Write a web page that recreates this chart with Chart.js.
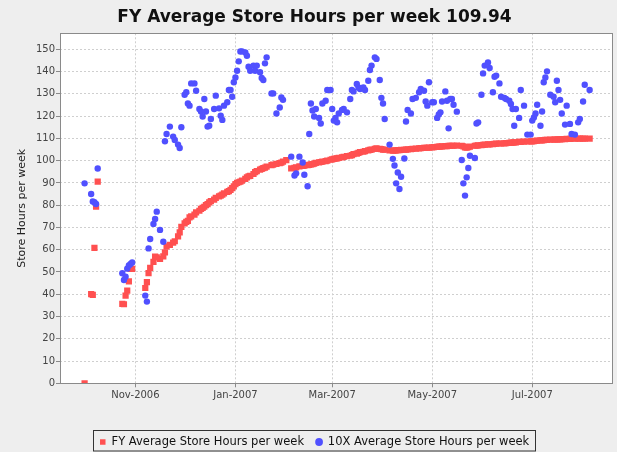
<!DOCTYPE html>
<html>
<head>
<meta charset="utf-8">
<script src="https://cdn.jsdelivr.net/npm/chart.js@4.4.0/dist/chart.umd.min.js"></script>
<style>
  html, body { margin: 0; padding: 0; background: #eeeeee; }
  #wrap { width: 617px; height: 452px; position: relative; }
</style>
</head>
<body>
<div id="wrap"><canvas id="scatterChart"></canvas></div>
<script>
// days counted from 2006-10-01
const days = [
  0, 4, 5, 6, 7, 8,
  23, 24, 25, 26, 27, 28, 29,
  37, 38, 39, 40, 42, 43, 44, 46, 48, 49,
  50, 52, 54, 55, 57, 58, 59, 61, 62, 63,
  64, 65, 67, 68, 70, 71, 72, 73, 74, 75,
  76, 77, 79, 80, 82, 83, 84, 85, 87, 88,
  89, 90, 91, 92, 93, 94, 95, 96, 98, 99,
  100, 101, 103, 104, 105, 107, 108, 109, 110, 111,
  114, 115, 117, 119, 120, 121, 123,
  126, 128, 129, 131, 133, 134, 136, 137, 138, 139,
  140, 141, 143, 144, 145, 147, 148, 150, 151, 152,
  153, 154, 155, 157, 158, 160, 162, 163, 164, 166,
  167, 168, 170, 171, 173, 174, 175, 177, 178, 180,
  181, 182, 183, 186, 188, 189, 190, 191, 192, 193,
  195, 196, 197, 199, 200, 202, 204, 205, 207, 208,
  209, 210, 212, 213, 215, 216, 217, 218, 220, 221,
  222, 223, 224, 225, 227, 230, 231, 232, 233, 234,
  235, 238, 239, 240, 242, 243, 244, 246, 247, 249,
  250, 251, 253, 254, 256, 257, 259, 260, 261, 262,
  263, 265, 266, 268, 270, 272, 273, 274, 275, 276,
  278, 279, 280, 281, 282, 284, 286, 287, 288, 289,
  290, 291, 293, 294, 296, 297, 299, 301, 302, 304,
  305, 308
];

const fyHours = [
  0, 40.1, 39.7, 60.8, 79.3, 90.6,
  35.7, 35.5, 39.4, 41.6, 45.8, 51.4, 51.4,
  42.8, 45.4, 49.5, 51.8, 54.5, 56.9, 56.6, 55.9, 57.0, 58.8,
  61.5, 62.2, 63.2, 63.8, 66.0, 67.8, 70.3, 71.8, 72.5, 73.0,
  74.5, 75.0, 75.8, 76.8, 77.5, 78.3, 78.8, 79.3, 80.0, 80.5,
  81.3, 81.8, 82.5, 83.3, 84.0, 84.3, 84.7, 85.3, 86.0, 86.3,
  86.9, 87.7, 88.4, 89.5, 90.0, 90.3, 90.6, 91.0, 91.8, 92.5,
  93.0, 93.2, 94.0, 94.8, 95.3, 96.0, 96.3, 96.6, 96.9, 97.3,
  98.0, 98.2, 98.6, 98.9, 99.1, 99.6, 100.2,
  96.5, 96.8, 97.0, 97.4, 97.6, 97.8, 98.0, 98.1, 98.3, 98.4,
  98.7, 99.0, 99.2, 99.4, 99.6, 99.8, 100.0, 100.4, 100.6, 100.8,
  100.9, 101.0, 101.2, 101.5, 101.7, 102.0, 102.2, 102.5, 102.9, 103.2,
  103.5, 103.8, 104.0, 104.3, 104.6, 104.8, 105.0, 105.3, 105.5, 105.3,
  105.2, 105.0, 104.9, 104.6, 104.5, 104.5, 104.6, 104.7, 104.7, 104.8,
  104.9, 105.0, 105.1, 105.2, 105.3, 105.4, 105.5, 105.6, 105.7, 105.8,
  105.8, 105.9, 106.0, 106.1, 106.2, 106.3, 106.3, 106.4, 106.5, 106.5,
  106.6, 106.6, 106.7, 106.7, 106.8, 106.7, 106.4, 106.0, 105.9, 106.1,
  106.3, 106.7, 106.8, 106.9, 107.0, 107.1, 107.2, 107.3, 107.3, 107.4,
  107.5, 107.6, 107.7, 107.7, 107.8, 107.9, 108.0, 108.1, 108.1, 108.2,
  108.2, 108.4, 108.4, 108.5, 108.6, 108.7, 108.7, 108.8, 108.9, 109.0,
  109.1, 109.1, 109.2, 109.3, 109.3, 109.4, 109.4, 109.5, 109.5, 109.6,
  109.6, 109.7, 109.7, 109.8, 109.8, 109.85, 109.87, 109.9, 109.9, 109.92,
  109.93, 109.94
];

const tenXHours = [
  89.8, 85.0, 81.7, 81.3, 80.5, 96.5,
  49.4, 46.4, 47.9, 51.5, 52.9, 53.6, 54.3,
  39.4, 36.7, 60.6, 64.8, 71.6, 73.8, 77.1, 68.9, 63.6, 108.7,
  112.0, 115.3, 110.8, 109.3, 107.2, 105.7, 115.0, 129.6, 130.7, 125.7,
  124.7, 134.7, 134.7, 131.4, 123.2, 122.1, 119.8, 127.7, 122.1, 115.3,
  115.7, 118.7, 123.2, 129.2, 123.5, 120.2, 118.3, 124.7, 126.2, 131.7,
  131.7, 128.7, 135.2, 137.4, 140.4, 144.6, 149.0, 149.1, 148.6, 147.1,
  142.2, 140.4, 142.7, 140.4, 142.7, 139.7, 137.1, 136.2, 143.7, 146.4,
  130.2, 130.2, 121.2, 123.9, 128.4, 127.3, null,
  101.8, 93.3, 94.3, 101.8, 99.2, 93.7, 88.5, 112.0, 125.7, 122.5,
  119.8, 123.2, 119.2, 116.7, 125.7, 126.9, 131.7, 131.7, 123.2, 118.0,
  119.2, 117.2, 121.2, 122.8, 123.2, 121.7, 127.7, 131.7, 131.1, 134.4,
  132.9, 132.2, 132.9, 131.7, 135.9, 140.7, 142.7, 146.4, 145.7, 136.2,
  128.2, 125.7, 118.7, 107.2, 100.8, 97.8, 89.8, 94.7, 87.3, 92.8,
  101.0, 117.6, 122.8, 121.2, 127.7, 128.2, 130.7, 132.2, 131.4, 126.6,
  124.7, 135.2, 126.2, 126.2, 119.2, 120.7, 121.7, 126.6, 131.1, 126.9,
  114.5, 127.7, 127.7, 125.1, 122.0, 100.3, 89.8, 84.3, 92.5, 96.7,
  102.2, 101.2, 116.7, 117.2, 129.6, 139.2, 142.7, 144.1, 141.6, 130.7,
  137.7, 138.2, 134.7, 128.7, 128.2, 127.7, 126.9, 125.5, 123.2, 115.7,
  123.2, 119.2, 131.7, 124.7, 111.7, 111.7, 118.0, 119.4, 121.2, 125.1,
  115.7, 122.1, 135.2, 137.4, 140.1, 129.6, 128.7, 126.2, 135.9, 131.7,
  127.3, 121.2, 116.2, 124.7, 116.5, 112.0, 111.7, 117.2, 118.7, 126.6,
  134.1, 131.7
];

const tickDays = [31, 92, 151, 212, 273];
const tickLabels = ['Nov-2006', 'Jan-2007', 'Mar-2007', 'May-2007', 'Jul-2007'];

// white plot, grey outline, boxed legend
const plotFrame = {
  id: 'plotFrame',
  beforeDraw(chart) {
    const { ctx, chartArea: a } = chart;
    ctx.save();
    ctx.fillStyle = '#ffffff';
    ctx.fillRect(a.left, a.top, a.right - a.left, a.bottom - a.top);
    ctx.restore();
  },
  afterDraw(chart) {
    const { ctx, chartArea: a } = chart;
    ctx.save();
    ctx.strokeStyle = '#8a8a8a';
    ctx.lineWidth = 1;
    ctx.strokeRect(Math.round(a.left) + 0.5, Math.round(a.top) + 0.5,
      Math.round(a.right - a.left) - 1, Math.round(a.bottom - a.top));
    const boxes = chart.legend.legendHitBoxes;
    if (boxes && boxes.length) {
      const first = boxes[0], last = boxes[boxes.length - 1];
      const left = Math.round(first.left - 7) + 0.5;
      const right = Math.round(last.left + last.width + 6) + 0.5;
      const top = Math.round(first.top - 6) + 0.5;
      ctx.strokeStyle = '#333333';
      ctx.strokeRect(left, top, right - left, 451 - top);
    }
    ctx.restore();
  }
};

new Chart(document.getElementById('scatterChart'), {
  type: 'scatter',
  data: {
    datasets: [{
      label: 'FY Average Store Hours per week',
      data: days.map((d, i) => ({ x: d, y: fyHours[i] })),
      backgroundColor: '#ff5050',
      borderColor: '#ff5050',
      pointStyle: 'rect',
      pointRadius: 4.4,
      pointBorderWidth: 0,
      order: 2
    }, {
      label: '10X Average Store Hours per week',
      data: days.map((d, i) => ({ x: d, y: tenXHours[i] })),
      backgroundColor: '#5050ff',
      borderColor: '#5050ff',
      pointStyle: 'circle',
      pointRadius: 3.2,
      pointBorderWidth: 0,
      order: 1
    }]
  },
  options: {
    responsive: true,
    maintainAspectRatio: false,
    animation: false,
    events: [],
    layout: { padding: { left: 15, right: 3, top: 0, bottom: 0 } },
    scales: {
      x: {
        type: 'linear',
        min: -15,
        max: 322,
        afterBuildTicks: (scale) => { scale.ticks = tickDays.map(v => ({ value: v })); },
        afterFit: (scale) => { scale.height = 40.95; },
        ticks: {
          callback: (value) => tickLabels[tickDays.indexOf(value)],
          autoSkip: false,
          maxRotation: 0,
          padding: 2,
          color: '#444444',
          font: { family: 'DejaVu Sans', size: 10 }
        },
        grid: {
          color: '#cfcfcf',
          tickColor: '#8a8a8a',
          tickLength: 4,
          tickBorderDash: []
        },
        border: { display: false, dash: [2, 2] }
      },
      y: {
        min: 0,
        max: 157.2,
        afterFit: (scale) => { scale.width = 45; },
        title: {
          display: true,
          text: 'Store Hours per week',
          color: '#222222',
          font: { family: 'DejaVu Sans', size: 11 },
          padding: { top: 1, bottom: 0 }
        },
        ticks: {
          stepSize: 10,
          includeBounds: false,
          padding: 1,
          color: '#444444',
          font: { family: 'DejaVu Sans', size: 10 }
        },
        grid: {
          color: '#cfcfcf',
          tickColor: '#8a8a8a',
          tickLength: 4,
          tickBorderDash: []
        },
        border: { display: false, dash: [2, 2] }
      }
    },
    plugins: {
      title: {
        display: true,
        text: 'FY Average Store Hours per week 109.94',
        color: '#111111',
        font: { family: 'DejaVu Sans', size: 17, weight: 'bold' },
        padding: { top: 7.5, bottom: 5.4 }
      },
      legend: {
        position: 'bottom',
        maxHeight: 27.75,
        labels: {
          usePointStyle: true,
          boxWidth: 6,
          boxHeight: 5.5,
          padding: 12,
          color: '#111111',
          font: { family: 'DejaVu Sans', size: 11.5 },
          sort: (a, b) => a.datasetIndex - b.datasetIndex
        }
      },
      tooltip: { enabled: false }
    }
  },
  plugins: [plotFrame]
});
</script>
</body>
</html>
